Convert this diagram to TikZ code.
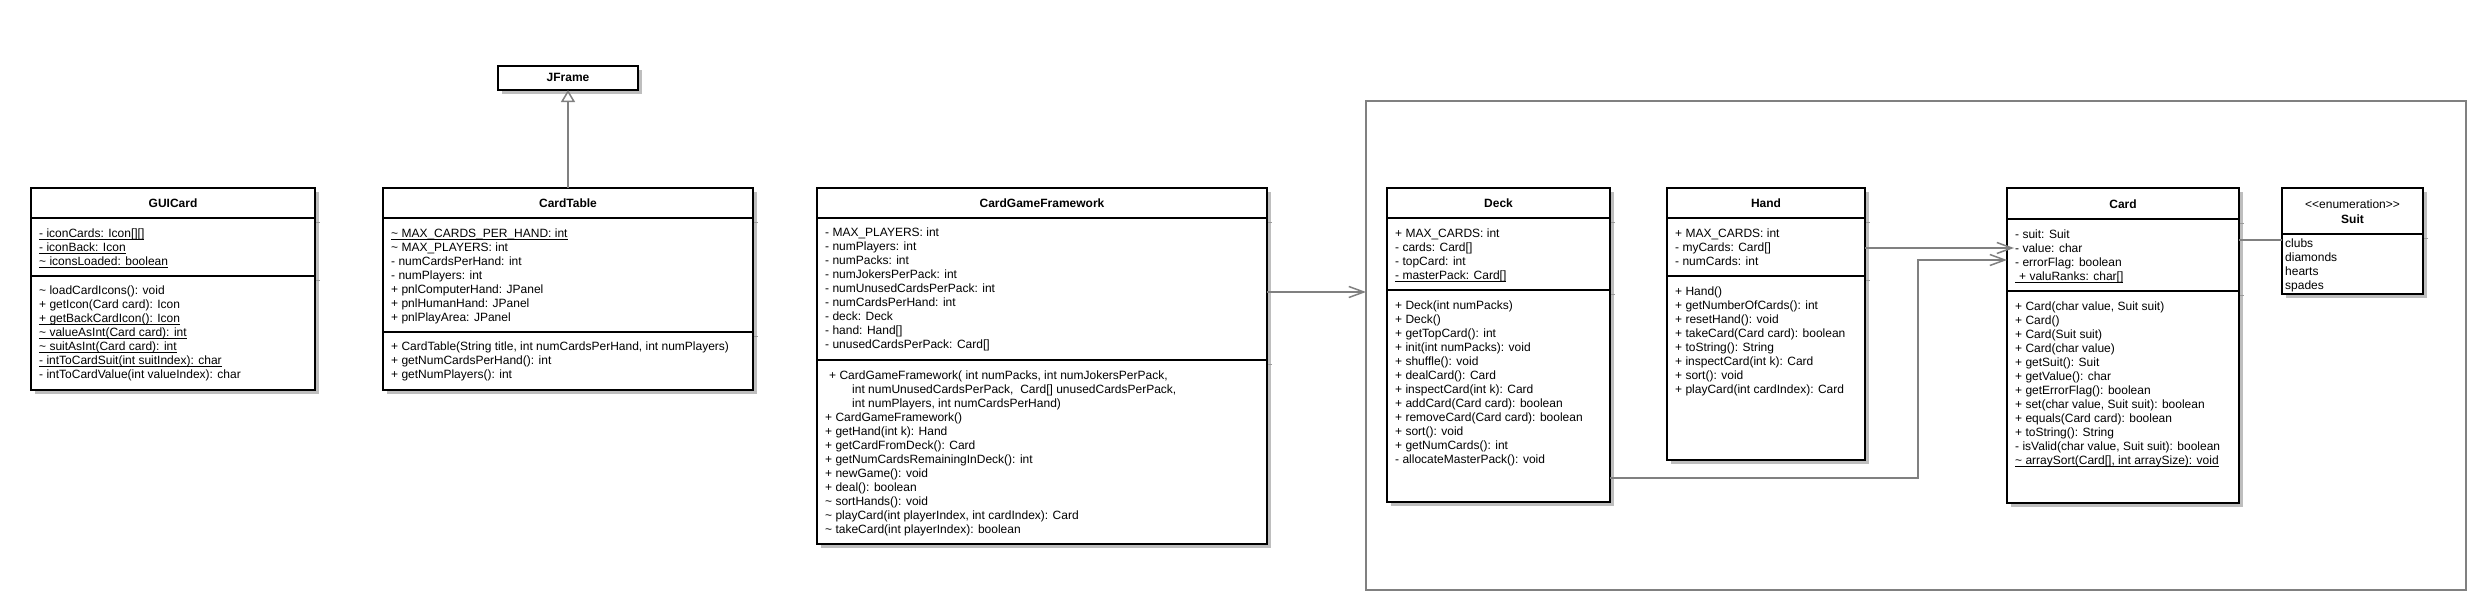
\documentclass[tikz,border=0pt]{standalone}
\usepackage{fontspec}
\setmainfont{Liberation Sans}
\usetikzlibrary{arrows.meta,calc}
\definecolor{conncol}{RGB}{128,128,128}
\definecolor{shad}{RGB}{190,190,190}
\newcommand\mytilde{\textasciitilde{}}
\newcommand\umlul[1]{\setbox0\hbox{#1}\rlap{\rule[-2.2pt]{\wd0}{0.8pt}}\box0}
% class box: name, left, top, right, bottom
\newcommand\umlclass[5]{%
  \fill[boxshadow] ({#2+4},{#3+4}) rectangle ({#4+4},{#5+4});
  \node[classrect, minimum width={#4-#2}, minimum height={#5-#3}] (#1) at ({(#2+#4)/2},{(#3+#5)/2}) {};
}
% separator: left, right, y
\newcommand\umlsep[3]{%
  \draw[stub] ({#2+1},{#3+4}) -- ({#2+5},{#3+4});
  \draw[sepl] ({#1},{#3}) -- ({#2},{#3});
}
% members: name prefix, x, first line centre y, list
\newcommand\umlmembers[4]{%
  \foreach \m [count=\k] in {#4} {
    \node[member] (#1-\k) at ({#2},{#3+4.5+14*(\k-1)}) {\m};
  }%
}
\begin{document}
\begin{tikzpicture}[x=1pt,y=-1pt,
  classrect/.style={rectangle, draw=black, line width=2pt, fill=white, inner sep=0pt, outer sep=0pt},
  boxshadow/.style={fill=shad},
  sepl/.style={draw=black, line width=2pt},
  stub/.style={draw=black!40, line width=1pt},
  member/.style={anchor=base west, inner sep=0pt, font=\fontsize{12pt}{14pt}\selectfont},
  ctitle/.style={anchor=base, inner sep=0pt, font=\fontsize{12pt}{14pt}\selectfont\bfseries},
  plaintitle/.style={anchor=base, inner sep=0pt, font=\fontsize{12pt}{14pt}\selectfont},
  connline/.style={draw=conncol, line width=1.5pt},
  assoc/.style={connline, -{Straight Barb[length=15pt,width=11pt]}},
  gen/.style={connline, -{Triangle[open,length=12pt,width=14pt,fill=white]}},
  pkgframe/.style={rectangle, draw=conncol, line width=1.5pt, inner sep=0pt, outer sep=0pt}
]
\fill[white] (0,0) rectangle (2485,610);
\useasboundingbox (0,0) rectangle (2485,610);

% package frame
\node[pkgframe, minimum width=1100, minimum height=489] (pkg) at (1916,345.5) {};

% ---------- JFrame ----------
\umlclass{jframe}{498}{66}{638}{90}
\node[ctitle] (jframe-t) at (568,81.5) {JFrame};

% ---------- GUICard ----------
\umlclass{gui}{31}{188}{315}{390}
\node[ctitle] (gui-t) at (173,207.5) {GUICard};
\umlsep{31}{315}{218}
\umlsep{31}{315}{276}
\umlmembers{gui-a}{39}{233}{
  {\umlul{- iconCards: Icon[][]}},
  {\umlul{- iconBack: Icon}},
  {\umlul{\mytilde\ iconsLoaded: boolean}}}
\umlmembers{gui-m}{39}{290}{
  {\mytilde\ loadCardIcons(): void},
  {+ getIcon(Card card): Icon},
  {\umlul{+ getBackCardIcon(): Icon}},
  {\umlul{\mytilde\ valueAsInt(Card card): int}},
  {\umlul{\mytilde\ suitAsInt(Card card): int}},
  {\umlul{- intToCardSuit(int suitIndex): char}},
  {- intToCardValue(int valueIndex): char}}

% ---------- CardTable ----------
\umlclass{ctab}{383}{188}{753}{390}
\node[ctitle] (ctab-t) at (568,207.5) {CardTable};
\umlsep{383}{753}{218}
\umlsep{383}{753}{332}
\umlmembers{ctab-a}{391}{233}{
  {\umlul{\mytilde\ MAX\_CARDS\_PER\_HAND: int}},
  {\mytilde\ MAX\_PLAYERS: int},
  {- numCardsPerHand: int},
  {- numPlayers: int},
  {+ pnlComputerHand: JPanel},
  {+ pnlHumanHand: JPanel},
  {+ pnlPlayArea: JPanel}}
\umlmembers{ctab-m}{391}{346}{
  {+ CardTable(String title, int numCardsPerHand, int numPlayers)},
  {+ getNumCardsPerHand(): int},
  {+ getNumPlayers(): int}}

% ---------- CardGameFramework ----------
\umlclass{cgf}{817}{188}{1267}{544}
\node[ctitle] (cgf-t) at (1042,207) {CardGameFramework};
\umlsep{817}{1267}{218}
\umlsep{817}{1267}{360}
\umlmembers{cgf-a}{825}{232}{
  {- MAX\_PLAYERS: int},
  {- numPlayers: int},
  {- numPacks: int},
  {- numJokersPerPack: int},
  {- numUnusedCardsPerPack: int},
  {- numCardsPerHand: int},
  {- deck: Deck},
  {- hand: Hand[]},
  {- unusedCardsPerPack: Card[]}}
\umlmembers{cgf-m}{825}{375}{
  {\hspace*{4pt}+ CardGameFramework( int numPacks, int numJokersPerPack,},
  {\hspace*{27pt}int numUnusedCardsPerPack,\ \ Card[] unusedCardsPerPack,},
  {\hspace*{27pt}int numPlayers, int numCardsPerHand)},
  {+ CardGameFramework()},
  {+ getHand(int k): Hand},
  {+ getCardFromDeck(): Card},
  {+ getNumCardsRemainingInDeck(): int},
  {+ newGame(): void},
  {+ deal(): boolean},
  {\mytilde\ sortHands(): void},
  {\mytilde\ playCard(int playerIndex, int cardIndex): Card},
  {\mytilde\ takeCard(int playerIndex): boolean}}

% ---------- Deck ----------
\umlclass{deck}{1387}{188}{1610}{502}
\node[ctitle] (deck-t) at (1498.5,207.5) {Deck};
\umlsep{1387}{1610}{218}
\umlsep{1387}{1610}{290}
\umlmembers{deck-a}{1395}{233}{
  {+ MAX\_CARDS: int},
  {- cards: Card[]},
  {- topCard: int},
  {\umlul{- masterPack: Card[]}}}
\umlmembers{deck-m}{1395}{305}{
  {+ Deck(int numPacks)},
  {+ Deck()},
  {+ getTopCard(): int},
  {+ init(int numPacks): void},
  {+ shuffle(): void},
  {+ dealCard(): Card},
  {+ inspectCard(int k): Card},
  {+ addCard(Card card): boolean},
  {+ removeCard(Card card): boolean},
  {+ sort(): void},
  {+ getNumCards(): int},
  {- allocateMasterPack(): void}}

% ---------- Hand ----------
\umlclass{hand}{1667}{188}{1865}{460}
\node[ctitle] (hand-t) at (1766,207.5) {Hand};
\umlsep{1667}{1865}{218}
\umlsep{1667}{1865}{276}
\umlmembers{hand-a}{1675}{233}{
  {+ MAX\_CARDS: int},
  {- myCards: Card[]},
  {- numCards: int}}
\umlmembers{hand-m}{1675}{291}{
  {+ Hand()},
  {+ getNumberOfCards(): int},
  {+ resetHand(): void},
  {+ takeCard(Card card): boolean},
  {+ toString(): String},
  {+ inspectCard(int k): Card},
  {+ sort(): void},
  {+ playCard(int cardIndex): Card}}

% ---------- Card ----------
\umlclass{card}{2007}{188}{2239}{503}
\node[ctitle] (card-t) at (2123,208.5) {Card};
\umlsep{2007}{2239}{219}
\umlsep{2007}{2239}{291}
\umlmembers{card-a}{2015}{234}{
  {- suit: Suit},
  {- value: char},
  {- errorFlag: boolean},
  {\umlul{\hspace*{4pt}+ valuRanks: char[]}}}
\umlmembers{card-m}{2015}{306}{
  {+ Card(char value, Suit suit)},
  {+ Card()},
  {+ Card(Suit suit)},
  {+ Card(char value)},
  {+ getSuit(): Suit},
  {+ getValue(): char},
  {+ getErrorFlag(): boolean},
  {+ set(char value, Suit suit): boolean},
  {+ equals(Card card): boolean},
  {+ toString(): String},
  {- isValid(char value, Suit suit): boolean},
  {\umlul{\mytilde\ arraySort(Card[], int arraySize): void}}}

% ---------- Suit ----------
\umlclass{suit}{2282}{188}{2423}{294}
\node[plaintitle] (suit-s) at (2352.5,208.5) {<\kern0pt<enumeration>\kern0pt>};
\node[ctitle] (suit-t) at (2352.5,223.5) {Suit};
\umlsep{2282}{2423}{234}
\umlmembers{suit-l}{2285}{243}{
  {clubs},
  {diamonds},
  {hearts},
  {spades}}

% ---------- connectors ----------
\coordinate (yA) at (0,292);
\coordinate (yB) at (0,248);
\coordinate (yC) at (0,478);
\coordinate (yD) at (0,240);
\coordinate (bendC) at (1918,260);
\coordinate (tipB) at (2014,248);

\draw[gen] (ctab.north) -- (jframe.south);
\draw[assoc] (cgf.east |- yA) -- (pkg.west |- yA);
\draw[assoc] (hand.east |- yB) -- (tipB);
\draw[assoc] (deck.east |- yC) -| (bendC) -- (card.west |- bendC);
\draw[connline] (card.east |- yD) -- (suit.west |- yD);
\end{tikzpicture}
\end{document}
